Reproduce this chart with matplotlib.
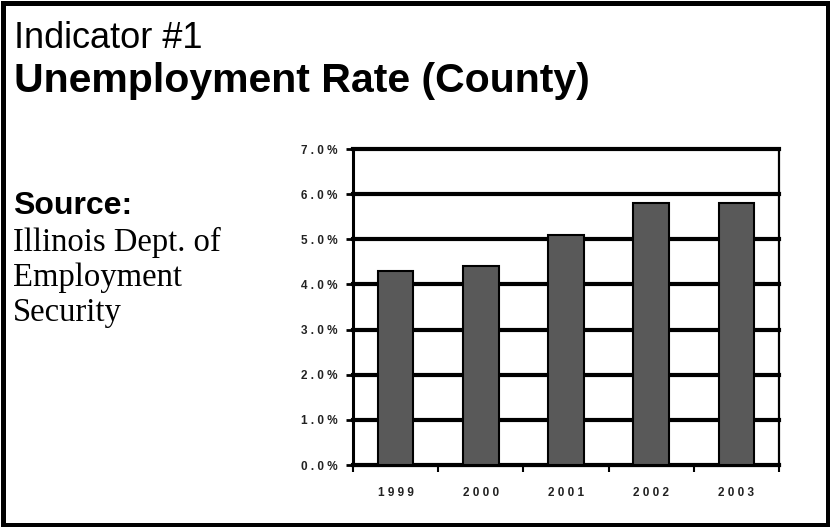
import matplotlib.pyplot as plt

years = ['1999', '2000', '2001', '2002', '2003']
rates = [4.3, 4.4, 5.1, 5.8, 5.8]
y_ticks = [0, 1, 2, 3, 4, 5, 6, 7]
source_lines = ['Illinois Dept. of', 'Employment', 'Security']


def spaced(s):
    # the original chart puts a gap between every character
    return ' '.join(s)


W, H = 830, 527
sans = ['Liberation Sans', 'DejaVu Sans']
serif = ['Liberation Serif', 'DejaVu Serif']

fig = plt.figure(figsize=(W / 100, H / 100), dpi=100)

# outer frame, about 5px thick
fig.patches.append(plt.Rectangle((2.5 / W, 2.5 / H), 1 - 5 / W, 1 - 5 / H,
                                 transform=fig.transFigure, fill=False,
                                 edgecolor='black', linewidth=3.6))

fig.text(14 / W, 1 - 48 / H, 'Indicator #1', family=sans, fontsize=26,
         va='baseline', ha='left')
fig.text(14 / W, 1 - 92 / H, 'Unemployment Rate (County)', family=sans,
         fontsize=29.5, fontweight='bold', va='baseline', ha='left')
fig.text(13 / W, 1 - 214 / H, 'Source:', family=sans, fontsize=23,
         fontweight='bold', va='baseline', ha='left')
for i, line in enumerate(source_lines):
    fig.text(13 / W, 1 - (251 + 35 * i) / H, line, family=serif, fontsize=23.5,
             va='baseline', ha='left')

ax = fig.add_axes([353 / W, 62 / H, 426 / W, 316 / H])
x = range(len(years))
ax.bar(x, rates, width=0.42, color='#595959', edgecolor='black', linewidth=1.5, zorder=3)

ax.set_xlim(-0.5, len(years) - 0.5)
ax.set_ylim(0, 7)
ax.set_yticks(y_ticks)
ax.set_yticklabels([spaced(f'{v:.1f}%') for v in y_ticks], family=sans,
                   fontsize=8.5, fontweight='bold', color='#222222')
ax.set_xticks(list(x))
ax.set_xticklabels([spaced(y) for y in years], family=sans, fontsize=8.5,
                   fontweight='bold', color='#222222')
ax.set_xticks([i + 0.5 for i in range(-1, len(years))], minor=True)

ax.tick_params(axis='y', direction='out', length=5, width=2, pad=6)
ax.tick_params(axis='x', which='major', length=0, pad=16)
ax.tick_params(axis='x', which='minor', direction='out', length=5, width=1.5)

ax.yaxis.grid(True, color='black', linewidth=3, zorder=1)
ax.set_axisbelow(True)
for gl in ax.get_ygridlines():
    gl.set_clip_on(False)

ax.spines['top'].set_visible(False)
ax.spines['left'].set_linewidth(2.2)
ax.spines['bottom'].set_linewidth(2.2)
ax.spines['right'].set_linewidth(1.6)

fig.savefig('out.png', dpi=100)
